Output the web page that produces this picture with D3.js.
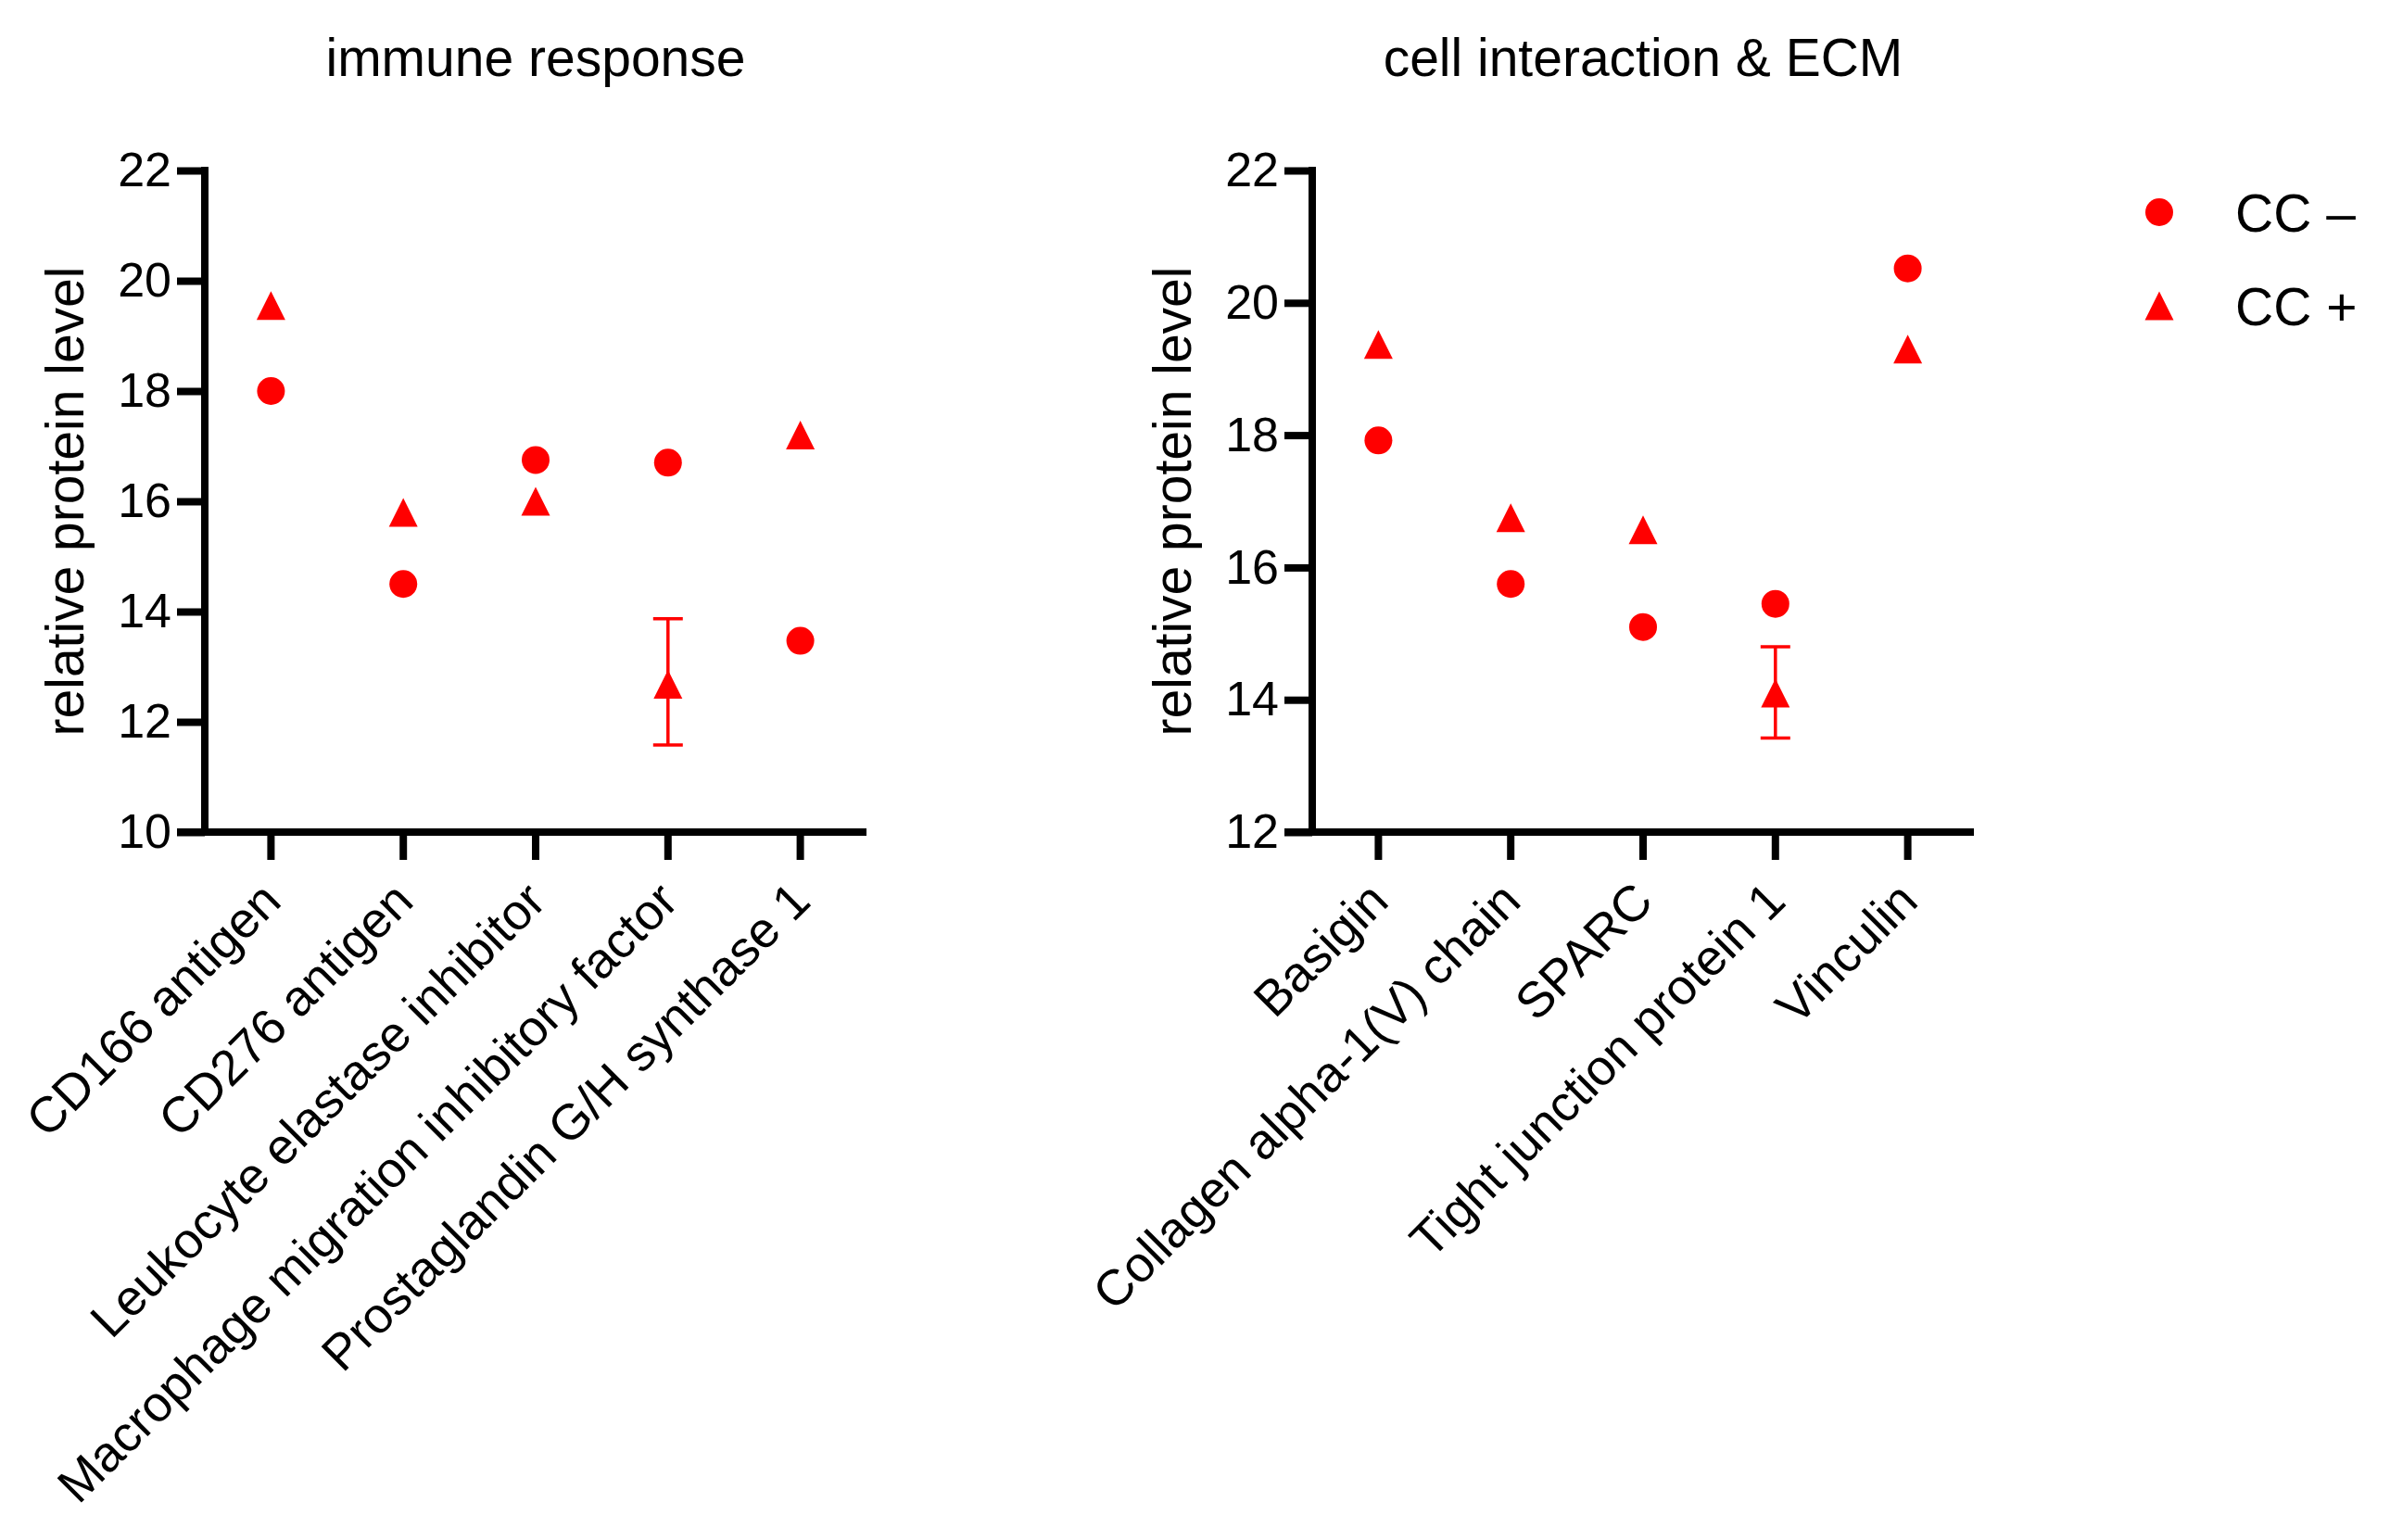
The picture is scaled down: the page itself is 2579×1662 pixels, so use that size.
<!DOCTYPE html>
<html>
<head>
<meta charset="utf-8">
<script src="https://cdn.jsdelivr.net/npm/d3@7"></script>
<style>
    body { margin: 0; background: #fff; }
    text { font-family: "Liberation Sans", Arial, sans-serif; fill: #000; }
</style>
</head>
<body>
<div id="chart"></div>
<script>
// Data
var immuneCats = ["CD166 antigen", "CD276 antigen", "Leukocyte elastase inhibitor",
    "Macrophage migration inhibitory factor", "Prostaglandin G/H synthase 1"];
var immuneMinus = [18.0, 14.5, 16.75, 16.7, 13.47];
var immunePlus = [19.55, 15.8, 16.0, 12.68, 17.2];
var immunePlusErr = [null, null, null, [11.58, 13.87], null];

var cellCats = ["Basigin", "Collagen alpha-1(V) chain", "SPARC", "Tight junction protein 1", "Vinculin"];
var cellMinus = [17.92, 15.75, 15.1, 15.45, 20.52];
var cellPlus = [19.37, 16.75, 16.57, 14.1, 19.3];
var cellPlusErr = [null, null, null, [13.42, 14.8], null];

var immuneTicks = [10, 12, 14, 16, 18, 20, 22];
var cellTicks = [12, 14, 16, 18, 20, 22];

var legendLabels = ["CC \u2013", "CC +"];

var red = "#ff0000";

var svg = d3.select("#chart")
    .append("svg")
    .attr("width", 2579)
    .attr("height", 1662);

// triangle centred on its bounding box
var triangleType = {
    draw: function (ctx, size) {
        var w = size, h = size;
        ctx.moveTo(0, -h / 2);
        ctx.lineTo(w / 2, h / 2);
        ctx.lineTo(-w / 2, h / 2);
        ctx.closePath();
    }
};
var circleSym = d3.symbol().type(d3.symbolCircle).size(Math.PI * 15 * 15);
var triSym = d3.symbol().type(triangleType).size(31);

function drawPanel(cfg) {
    var xScale = d3.scaleBand().domain(cfg.cats).range([cfg.left, cfg.right]);
    var yScale = d3.scaleLinear().domain(cfg.domain).range([898, 184]);
    var xc = function (d) { return xScale(d) + xScale.bandwidth() / 2; };

    var g = svg.append("g");

    // Y axis
    var yAxis = g.append("g")
        .attr("transform", "translate(" + cfg.left + ",0)")
        .call(d3.axisLeft(yScale).tickValues(cfg.ticks).tickSize(30).tickSizeOuter(0).tickPadding(6));
    yAxis.selectAll("line").attr("stroke-width", 8).attr("stroke", "#000");
    yAxis.select(".domain").attr("stroke-width", 8).attr("stroke", "#000").attr("d", "M0,180V902");
    yAxis.selectAll("text").style("font-size", "52px").style("font-family", "Liberation Sans, Arial, sans-serif");

    // X axis
    var xAxis = g.append("g")
        .attr("transform", "translate(0,898)")
        .call(d3.axisBottom(xScale).tickSize(30).tickSizeOuter(0).tickFormat(""));
    xAxis.selectAll("line").attr("stroke-width", 8).attr("stroke", "#000");
    xAxis.select(".domain").attr("stroke-width", 8).attr("stroke", "#000")
        .attr("d", "M" + (cfg.left - 30) + ",0H" + cfg.right);

    // rotated category labels
    g.selectAll(".cat")
        .data(cfg.cats)
        .enter().append("text")
        .attr("class", "cat")
        .attr("text-anchor", "end")
        .attr("dy", "0.35em")
        .attr("transform", function (d) { return "translate(" + xc(d) + ",962) rotate(-45)"; })
        .style("font-size", "54px")
        .text(function (d) { return d; });

    // title
    g.append("text")
        .attr("x", (cfg.left + cfg.right) / 2)
        .attr("y", 82)
        .attr("text-anchor", "middle")
        .style("font-size", "57px")
        .text(cfg.title);

    // y label
    g.append("text")
        .attr("transform", "translate(" + (cfg.left - 131) + "," + (yScale(cfg.domain[0]) + yScale(cfg.domain[1])) / 2 + ") rotate(-90)")
        .attr("text-anchor", "middle")
        .style("font-size", "57px")
        .text("relative protein level");

    // error bars
    var errs = cfg.cats.map(function (c, i) { return { cat: c, e: cfg.err[i] }; })
        .filter(function (d) { return d.e; });
    var eb = g.selectAll(".err").data(errs).enter().append("g").attr("class", "err")
        .attr("stroke", red).attr("stroke-width", 3.5);
    eb.append("line")
        .attr("x1", function (d) { return xc(d.cat); })
        .attr("x2", function (d) { return xc(d.cat); })
        .attr("y1", function (d) { return yScale(d.e[0]); })
        .attr("y2", function (d) { return yScale(d.e[1]); });
    eb.append("line")
        .attr("x1", function (d) { return xc(d.cat) - 16; })
        .attr("x2", function (d) { return xc(d.cat) + 16; })
        .attr("y1", function (d) { return yScale(d.e[0]); })
        .attr("y2", function (d) { return yScale(d.e[0]); });
    eb.append("line")
        .attr("x1", function (d) { return xc(d.cat) - 16; })
        .attr("x2", function (d) { return xc(d.cat) + 16; })
        .attr("y1", function (d) { return yScale(d.e[1]); })
        .attr("y2", function (d) { return yScale(d.e[1]); });

    // CC - circles
    g.selectAll(".minus")
        .data(cfg.minus)
        .enter().append("path")
        .attr("class", "minus")
        .attr("d", circleSym)
        .attr("fill", red)
        .attr("transform", function (d, i) { return "translate(" + xc(cfg.cats[i]) + "," + yScale(d) + ")"; });

    // CC + triangles
    g.selectAll(".plus")
        .data(cfg.plus)
        .enter().append("path")
        .attr("class", "plus")
        .attr("d", triSym)
        .attr("fill", red)
        .attr("transform", function (d, i) { return "translate(" + xc(cfg.cats[i]) + "," + yScale(d) + ")"; });
}

drawPanel({
    title: "immune response",
    cats: immuneCats, minus: immuneMinus, plus: immunePlus, err: immunePlusErr,
    domain: [10, 22], ticks: immuneTicks, left: 221, right: 935
});

drawPanel({
    title: "cell interaction & ECM",
    cats: cellCats, minus: cellMinus, plus: cellPlus, err: cellPlusErr,
    domain: [12, 22], ticks: cellTicks, left: 1416, right: 2130
});

// Legend
var legend = svg.append("g").attr("transform", "translate(2330,229)");
var li = legend.selectAll("g").data(legendLabels).enter().append("g")
    .attr("transform", function (d, i) { return "translate(0," + i * 101 + ")"; });
li.append("path")
    .attr("d", function (d, i) { return i === 0 ? circleSym() : triSym(); })
    .attr("fill", red);
li.append("text")
    .attr("x", 82)
    .attr("dy", "0.36em")
    .style("font-size", "57px")
    .text(function (d) { return d; });
</script>
</body>
</html>
